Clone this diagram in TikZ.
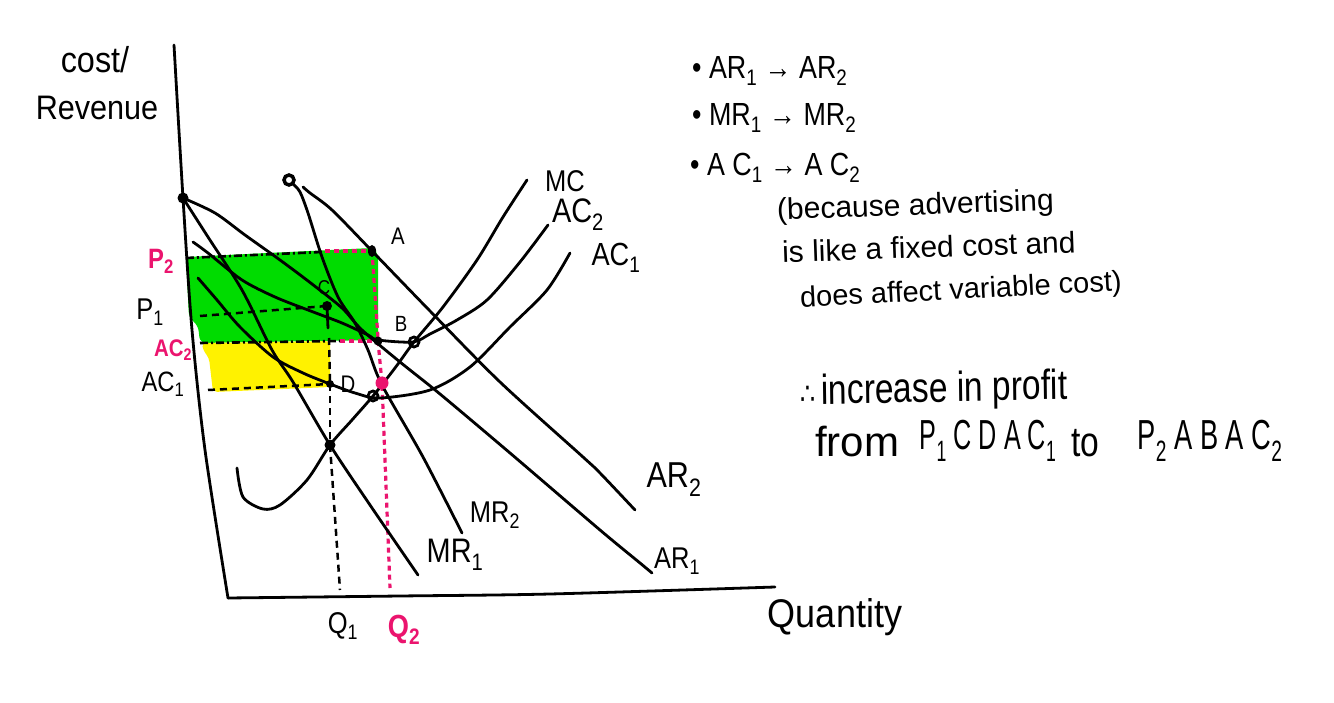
\documentclass[tikz,border=0pt]{standalone}
\usepackage{fontspec}
\setmainfont{Liberation Sans}
\newfontfamily\dvs{DejaVu Sans}
\definecolor{pinkc}{RGB}{235,20,110}
\definecolor{greenc}{RGB}{0,220,0}
\definecolor{yellowc}{RGB}{255,242,0}
\tikzset{
  hw/.style 2 args={font=\fontsize{#1}{#1}\selectfont, xscale=#2, inner sep=0pt},
  curve/.style={line width=2.8pt, line cap=round, line join=round},
  ds/.style={line width=2.5pt, dash pattern=on 7pt off 5pt},
  dd/.style={line width=2.6pt, dash pattern=on 8pt off 3pt on 2pt off 3pt},
  pd/.style={pinkc, line width=3.2pt, dash pattern=on 5pt off 4pt},
  hollow/.style={line width=2.8pt}
}
\begin{document}
\begin{tikzpicture}[x=1pt,y=-1pt]
\useasboundingbox (0,0) rectangle (1334,703);
\fill[white] (0,0) rectangle (1334,703);

% shaded areas
\fill[greenc, rounded corners=6pt] (186,257) -- (372,248) -- (378,252) -- (378,340) -- (200,343) -- (198,325) -- (189,318) -- cycle;
\fill[yellowc, rounded corners=4pt] (202,343) -- (330,341) -- (330,387) -- (213,392) -- (209,358) -- (203,350) -- cycle;

% key points
\coordinate (K) at (183,198);
\coordinate (A) at (372,251);
\coordinate (B) at (378,341);
\coordinate (C) at (327,306);
\coordinate (D) at (330,384);
\coordinate (E) at (330,445);
\coordinate (F) at (382,383);
\coordinate (G) at (373,396);
\coordinate (H) at (414,342);
\coordinate (S) at (289,180);

% axes
\draw[curve] plot[smooth] coordinates {(174,45) (183,198) (192,330) (205,450) (228,598)};
\draw[curve] plot[smooth] coordinates {(228,598) (400,596) (550,594) (775,587)};

% dashed guide lines
\draw[dd] (186,258) -- (322,252);
\draw[pd] (325,251) -- (A);
\draw[pd] (A) -- (378,338);
\draw[dd] (200,343) -- (340,341);
\draw[pd] (340,341) -- (B);
\draw[pd] (B) -- (F) -- (390,588);
\draw[ds] (200,316) -- (C);
\draw[curve] (C) -- (328,328);
\draw[ds] (329,338) -- (D);
\draw[ds] (208,390) -- (D);
\draw[ds] (D) -- (E);
\draw[ds] (E) -- (340,590);

% curves
\draw[curve] plot[smooth, tension=.5] coordinates {(183,198) (215,213) (245,235) (280,260) (312,284) (342,308) (362,330) (400,362) (440,394) (510,453) (600,530) (640,563) (652,573)};
\draw[curve] plot[smooth, tension=.5] coordinates {(183,198) (208,237) (242,290) (272,350) (293,382) (330,445) (370,505) (418,575)};
\draw[curve] plot[smooth, tension=.5] coordinates {(293,184) (300,192) (308,213) (322,257) (338,297) (355,323) (368,350) (382,385) (423,457) (462,533)};
\draw[curve] plot[smooth, tension=.5] coordinates {(303,187) (310,193) (332,210) (372,251) (430,311) (500,382) (583,457) (600,473) (635,510)};
\draw[curve] plot[smooth, tension=.5] coordinates {(193,242) (208,253) (242,280) (275,297) (308,310) (342,323) (368,335) (378,340) (413,342) (430,334) (457,320) (487,300) (520,262) (548,225)};
\draw[curve] plot[smooth, tension=.5] coordinates {(198,278) (217,300) (240,327) (273,357) (303,373) (330,384) (355,393) (380,398) (430,390) (470,367) (510,327) (547,290) (570,253)};
\draw[curve] plot[smooth, tension=.5] coordinates {(237,468) (243,497) (263,509) (280,505) (307,480) (330,445) (352,420) (373,396) (395,368) (414,342) (443,307) (477,260) (503,217) (527,180)};

% dots
\fill (K) circle (5.5);
\fill (A) ellipse (4 and 6);
\fill (B) circle (4.5);
\fill (C) circle (5);
\fill (D) circle (4);
\fill (E) circle (5.5);
\fill[pinkc] (F) circle (6.5);
\draw[hollow] (G) circle (5);
\draw[hollow] (H) circle (5);
\draw[line width=3.5pt] (S) circle (5);

% axis labels
\node[hw={36}{.9}] (ycost) at (95,60) {cost/};
\node[hw={34}{.9}] (yrev) at (97,108) {Revenue};
\node[hw={40}{.9}] (xq) at (835,617) {Quantity};

% curve labels
\node[hw={30}{.85}] (lMC) at (565,181) {MC};
\node[hw={34}{.85}] (lAC2) at (578,215) {AC\textsubscript{2}};
\node[hw={32}{.85}] (lAC1) at (616,258) {AC\textsubscript{1}};
\node[hw={36}{.85}] (lAR2) at (674,480) {AR\textsubscript{2}};
\node[hw={30}{.85}] (lAR1) at (677,561) {AR\textsubscript{1}};
\node[hw={30}{.85}] (lMR2) at (495,515) {MR\textsubscript{2}};
\node[hw={34}{.85}] (lMR1) at (455,555) {MR\textsubscript{1}};

% point labels
\node[hw={24}{.85}] (lA) at (398,236) {A};
\node[hw={22}{.85}] (lB) at (401,324) {B};
\node[hw={20}{.85}] (lC) at (324,288) {C};
\node[hw={24}{.85}] (lD) at (348,384) {D};
\node[hw={28}{.85}, text=pinkc] (lP2) at (161,261) {\bfseries P\textsubscript{2}};
\node[hw={30}{.85}] (lP1) at (150,312) {P\textsubscript{1}};
\node[hw={24}{.85}, text=pinkc] (lAC2y) at (173,350) {\bfseries AC\textsubscript{2}};
\node[hw={28}{.85}] (lAC1y) at (163,384) {AC\textsubscript{1}};
\node[hw={30}{.85}] (lQ1) at (343,626) {Q\textsubscript{1}};
\node[hw={32}{.85}, text=pinkc] (lQ2) at (404,630) {\bfseries Q\textsubscript{2}};

% notes
\node[hw={32}{.84}, anchor=west] (n1) at (692,71) {• AR\textsubscript{1} → AR\textsubscript{2}};
\node[hw={32}{.84}, anchor=west] (n2) at (692,118) {• MR\textsubscript{1} → MR\textsubscript{2}};
\node[hw={32}{.84}, anchor=west] (n3) at (690,168) {• A C\textsubscript{1} → A C\textsubscript{2}};
\node[hw={30}{1}, anchor=west, rotate=2] (n4) at (777,212) {(because advertising};
\node[hw={30}{1}, anchor=west, rotate=2] (n5) at (782,252) {is like a fixed cost and};
\node[hw={29}{1}, anchor=west, rotate=3] (n6) at (800,300) {does affect variable cost)};
\node[hw={42}{.8}, anchor=west, rotate=1] (n7) at (800,394) {{\dvs\fontsize{30}{30}\selectfont ∴}\,increase in profit};
\node[hw={42}{1}] (n8) at (857,442) {from};
\node[hw={42}{.6}] (n9) at (988,441) {P\textsubscript{1} C D A C\textsubscript{1}};
\node[hw={42}{.8}] (n10) at (1085,443) {to};
\node[hw={42}{.65}] (n11) at (1210,441) {P\textsubscript{2} A B A C\textsubscript{2}};
\end{tikzpicture}
\end{document}
